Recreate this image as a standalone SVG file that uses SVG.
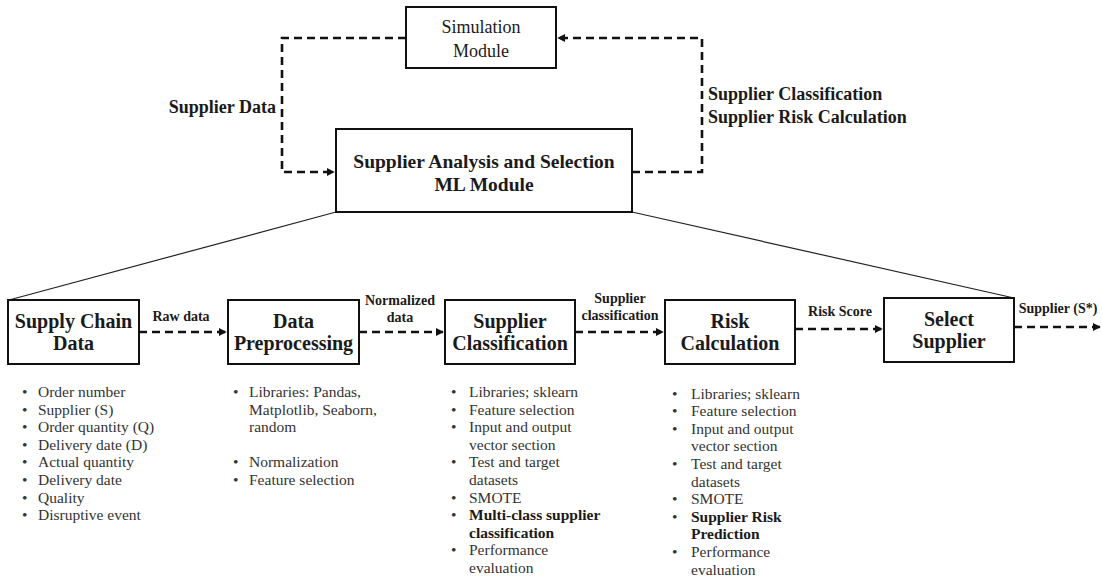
<svg xmlns="http://www.w3.org/2000/svg" width="1102" height="580" viewBox="0 0 1102 580">
<defs>
<marker id="ah" viewBox="0 0 10 10" refX="9" refY="5" markerWidth="3" markerHeight="3" orient="auto" markerUnits="strokeWidth">
<path d="M0,0 L10,5 L0,10 z" fill="#111"/>
</marker>
<style>
.box{fill:#fff;stroke:#111;stroke-width:2}
.dash{fill:none;stroke:#111;stroke-width:2.6;stroke-dasharray:8 5}
.thin{fill:none;stroke:#222;stroke-width:1.2}
.t{font-family:"Liberation Serif",serif;fill:#1a1a1a}
.title{font-size:20px;font-weight:bold;text-anchor:middle}
.lbl{font-size:14px;font-weight:bold;text-anchor:middle}
.big{font-size:18px;font-weight:bold}
.li{font-size:15.5px;fill:#333}
.b{font-weight:bold;fill:#1a1a1a}
</style>
</defs>
<rect width="1102" height="580" fill="#fff"/>

<g id="connectors">
<path class="dash" d="M406,38 H282 V172 H334" marker-end="url(#ah)"/>
<path class="dash" d="M632,172 H702 V38 H558" marker-end="url(#ah)"/>
<path class="thin" d="M336,212 L9,300"/>
<path class="thin" d="M632,212 L1014,298"/>
<path class="dash" d="M139,332 H226" marker-end="url(#ah)"/>
<path class="dash" d="M359,332 H443" marker-end="url(#ah)"/>
<path class="dash" d="M575,332 H663" marker-end="url(#ah)"/>
<path class="dash" d="M795,329 H882" marker-end="url(#ah)"/>
<path class="dash" d="M1014,327 H1100" marker-end="url(#ah)"/>
</g>

<g id="labels">
<text class="t big" x="276" y="113" text-anchor="end">Supplier Data</text>
<text class="t big" x="708" y="100">Supplier Classification</text>
<text class="t big" x="708" y="123">Supplier Risk Calculation</text>
<text class="t lbl" x="181" y="321">Raw data</text>
<text class="t lbl" x="400" y="305">Normalized</text>
<text class="t lbl" x="400" y="322">data</text>
<text class="t lbl" x="620" y="303">Supplier</text>
<text class="t lbl" x="620" y="320">classification</text>
<text class="t lbl" x="840" y="316">Risk Score</text>
<text class="t lbl" x="1058" y="313">Supplier (S*)</text>
</g>

<g id="simulation">
<rect class="box" x="406" y="7" width="150" height="61"/>
<text class="t" x="481" y="33" font-size="18" text-anchor="middle" fill="#333">Simulation</text>
<text class="t" x="481" y="57" font-size="18" text-anchor="middle" fill="#333">Module</text>
</g>

<g id="ml-module">
<rect class="box" x="336" y="129" width="296" height="83"/>
<text class="t" x="484" y="168" font-size="19.5" font-weight="bold" text-anchor="middle">Supplier Analysis and Selection</text>
<text class="t" x="484" y="191" font-size="19.5" font-weight="bold" text-anchor="middle">ML Module</text>
</g>

<g id="supply-chain-data">
<rect class="box" x="8" y="300" width="131" height="64"/>
<text class="t title" x="73.5" y="328">Supply Chain</text>
<text class="t title" x="73.5" y="350">Data</text>
<g class="t li">
<text x="22" y="397">•</text><text x="38" y="397">Order number</text>
<text x="22" y="414.6">•</text><text x="38" y="414.6">Supplier (S)</text>
<text x="22" y="432.2">•</text><text x="38" y="432.2">Order quantity (Q)</text>
<text x="22" y="449.8">•</text><text x="38" y="449.8">Delivery date (D)</text>
<text x="22" y="467.4">•</text><text x="38" y="467.4">Actual quantity</text>
<text x="22" y="485">•</text><text x="38" y="485">Delivery date</text>
<text x="22" y="502.6">•</text><text x="38" y="502.6">Quality</text>
<text x="22" y="520.2">•</text><text x="38" y="520.2">Disruptive event</text>
</g>
</g>

<g id="data-preprocessing">
<rect class="box" x="228" y="300" width="131" height="64"/>
<text class="t title" x="293.5" y="328">Data</text>
<text class="t title" x="293.5" y="350">Preprocessing</text>
<g class="t li">
<text x="233" y="397">•</text><text x="249" y="397">Libraries: Pandas,</text>
<text x="249" y="414.6">Matplotlib, Seaborn,</text>
<text x="249" y="432.2">random</text>
<text x="233" y="467.4">•</text><text x="249" y="467.4">Normalization</text>
<text x="233" y="485">•</text><text x="249" y="485">Feature selection</text>
</g>
</g>

<g id="supplier-classification">
<rect class="box" x="445" y="300" width="130" height="64"/>
<text class="t title" x="510" y="328">Supplier</text>
<text class="t title" x="510" y="350">Classification</text>
<g class="t li">
<text x="451" y="397">•</text><text x="469" y="397">Libraries; sklearn</text>
<text x="451" y="414.6">•</text><text x="469" y="414.6">Feature selection</text>
<text x="451" y="432.2">•</text><text x="469" y="432.2">Input and output</text>
<text x="469" y="449.8">vector section</text>
<text x="451" y="467.4">•</text><text x="469" y="467.4">Test and target</text>
<text x="469" y="485">datasets</text>
<text x="451" y="502.6">•</text><text x="469" y="502.6">SMOTE</text>
<text x="451" y="520.2">•</text><text class="b" x="469" y="520.2">Multi-class supplier</text>
<text class="b" x="469" y="537.8">classification</text>
<text x="451" y="555.4">•</text><text x="469" y="555.4">Performance</text>
<text x="469" y="573">evaluation</text>
</g>
</g>

<g id="risk-calculation">
<rect class="box" x="665" y="300" width="130" height="64"/>
<text class="t title" x="730" y="328">Risk</text>
<text class="t title" x="730" y="350">Calculation</text>
<g class="t li">
<text x="672" y="398.5">•</text><text x="691" y="398.5">Libraries; sklearn</text>
<text x="672" y="416.1">•</text><text x="691" y="416.1">Feature selection</text>
<text x="672" y="433.7">•</text><text x="691" y="433.7">Input and output</text>
<text x="691" y="451.3">vector section</text>
<text x="672" y="468.9">•</text><text x="691" y="468.9">Test and target</text>
<text x="691" y="486.5">datasets</text>
<text x="672" y="504.1">•</text><text x="691" y="504.1">SMOTE</text>
<text x="672" y="521.7">•</text><text class="b" x="691" y="521.7">Supplier Risk</text>
<text class="b" x="691" y="539.3">Prediction</text>
<text x="672" y="556.9">•</text><text x="691" y="556.9">Performance</text>
<text x="691" y="574.5">evaluation</text>
</g>
</g>

<g id="select-supplier">
<rect class="box" x="884" y="298" width="130" height="64"/>
<text class="t title" x="949" y="326">Select</text>
<text class="t title" x="949" y="348">Supplier</text>
</g>
</svg>
